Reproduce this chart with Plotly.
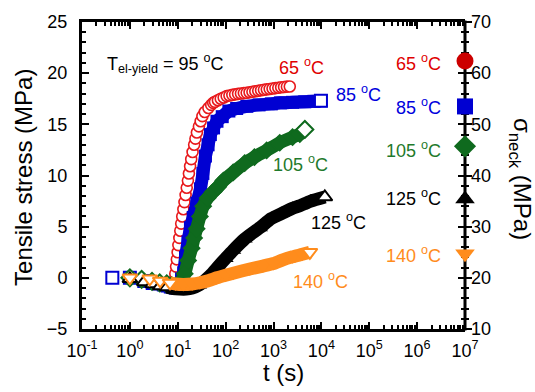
import plotly.graph_objects as go

# ---------------- data ----------------
RED_T = [7.5, 8.4, 8.87, 9.21, 9.57, 9.94, 10.3, 10.8, 11.3, 11.8, 12.4, 13.1, 13.8, 14.6, 15.4, 16.3,
         17.1, 18.1, 19.1, 20.4, 22.0, 23.4, 25.1, 27.7, 30.1, 32.7, 36.7, 43.7, 49.9, 55, 60, 69, 79, 91,
         105, 120, 138, 158, 182, 209, 240, 275, 316, 363, 417, 479, 550, 631, 724, 832, 955, 1096, 1259,
         1445, 1660, 1905, 2188]
RED_S = [-0.4, -0.3, 0.4, 1.1, 1.8, 2.5, 3.2, 3.9, 4.6, 5.3, 6.0, 6.7, 7.4, 8.1, 8.8, 9.5,
         10.2, 10.9, 11.6, 12.3, 13.0, 13.6, 14.2, 14.8, 15.3, 15.8, 16.2, 16.6, 16.9, 17.1, 17.2, 17.35, 17.5, 17.62,
         17.76, 17.82, 17.88, 17.93, 17.98, 18.02, 18.05, 18.08, 18.13, 18.18, 18.23, 18.28, 18.33, 18.38, 18.42, 18.46, 18.5, 18.54, 18.58,
         18.62, 18.65, 18.68, 18.7]

BLUE_T = [0.43, 1.0, 2.0, 3.0, 4.0, 5.0, 6.0, 7.0, 8.0, 9.0, 10.0, 11.0, 12.0, 13.3, 14.5, 16.3, 18.4, 21, 25, 29.8,
          33.5, 37.9, 43, 48, 56, 66, 85, 117, 170, 278, 500, 900, 1393, 2500, 4500, 7000, 9800]
BLUE_S = [0.0, 0.0, -0.3, -0.5, -0.6, -0.7, -0.8, -0.9, -0.95, -1.0, -1.0, -0.6, -0.1, 0.5, 2.0, 3.5, 4.9, 5.9, 7.3, 8.7,
          10.2, 11.9, 13.0, 14.0, 14.65, 15.3, 15.75, 16.3, 16.55, 16.76, 16.9, 17.0, 17.1, 17.15, 17.2, 17.25, 17.3]

GREEN_T = [1.0, 1.76, 2.9, 4.2, 5.9, 7.5, 9.5, 11.5, 14, 16.5, 19.5, 22, 24.8, 29, 34, 42, 55, 70, 90, 144,
           250, 400, 718, 1350, 2500, 3550, 4520]
GREEN_S = [0.0, -0.15, -0.35, -0.5, -0.6, -0.7, -0.7, -0.4, 0.4, 1.7, 2.9, 3.9, 4.8, 6.0, 7.0, 7.8, 8.4, 8.9, 9.5, 10.3,
           11.2, 11.8, 12.45, 13.2, 13.75, 14.05, 14.5]

BLACK_T = [1.0, 2.0, 3.0, 4.3, 6.0, 8.0, 11, 15, 20, 28, 38, 52, 70, 100, 144, 250, 520, 900, 1500, 2500,
           3550, 6000, 11800]
BLACK_S = [-0.1, -0.4, -0.6, -0.8, -0.9, -1.05, -1.1, -1.1, -1.0, -0.7, -0.2, 0.4, 1.1, 1.9, 2.7, 3.8, 4.9, 5.8, 6.3, 6.8,
           7.05, 7.5, 7.9]

ORANGE_T = [1.0, 2.6, 4.3, 6.9, 9.0, 13, 20, 29, 45, 65, 100, 144, 320, 600, 1000, 1570, 2500, 4000, 5750]
ORANGE_S = [0.0, -0.1, -0.3, -0.5, -0.6, -0.65, -0.6, -0.48, -0.25, 0.0, 0.25, 0.45, 0.86, 1.15, 1.4, 1.76, 2.05, 2.3, 2.5]

TEMPS = ["65", "85", "105", "125", "140"]
SIGMA_NECK = [62.4, 53.5, 45.7, 35.4, 24.7]
NECK_T = 1e7
X_TICKS = [1e-1, 1e0, 1e1, 1e2, 1e3, 1e4, 1e5, 1e6, 1e7]
X_TICKTEXT = ["10<sup>-1</sup>", "10<sup>0</sup>", "10<sup>1</sup>", "10<sup>2</sup>", "10<sup>3</sup>",
              "10<sup>4</sup>", "10<sup>5</sup>", "10<sup>6</sup>", "10<sup>7</sup>"]

# ---------------- styling ----------------
FONT = "Liberation Sans, Arial, sans-serif"
C_RED = "#e8191c"
C_BLUE = "#0000d2"
C_GREEN = "#0f6a1e"
C_BLACK = "#000000"
C_ORANGE = "#ff8c1c"
T_RED = "#e00000"
T_BLUE = "#0000dd"
T_GREEN = "#1f7a2c"
T_ORANGE = "#ff8c1c"

W, H = 535, 392
L, R, T, B = 82, 465, 14, 329


def px(xp):
    return (xp - L) / (R - L)


def py(yp):
    return (B - yp) / (B - T)


fig = go.Figure()

# red: open circles, drawn individually
fig.add_trace(go.Scatter(x=RED_T, y=RED_S, mode="markers",
                         marker=dict(symbol="circle", size=11, color="white",
                                     line=dict(color=C_RED, width=1.6)),
                         showlegend=False, hoverinfo="skip"))


def add_series(tt, ss, n_early, color, symbol, size):
    # dense band
    fig.add_trace(go.Scatter(x=tt[n_early - 1:], y=ss[n_early - 1:], mode="lines+markers",
                             line=dict(color=color, width=13, shape="spline", smoothing=0.6),
                             marker=dict(symbol=symbol, size=size + 1, color=color, line=dict(width=0)),
                             showlegend=False, hoverinfo="skip"))
    # sparse early points + final point (open markers)
    ex = tt[:n_early] + [tt[-1]]
    ey = ss[:n_early] + [ss[-1]]
    fig.add_trace(go.Scatter(x=ex, y=ey, mode="markers",
                             marker=dict(symbol=symbol, size=size, color="white",
                                         line=dict(color=color, width=2)),
                             showlegend=False, hoverinfo="skip", cliponaxis=False))


add_series(BLUE_T, BLUE_S, 4, C_BLUE, "square", 12)
add_series(GREEN_T, GREEN_S, 5, C_GREEN, "diamond", 13)
add_series(BLACK_T, BLACK_S, 5, C_BLACK, "triangle-up", 13)
add_series(ORANGE_T, ORANGE_S, 4, C_ORANGE, "triangle-down", 13)

# sigma_neck markers on the right axis
fig.add_trace(go.Scatter(x=[NECK_T] * len(SIGMA_NECK), y=SIGMA_NECK, yaxis="y3", mode="markers",
                         marker=dict(symbol=["circle", "square", "diamond", "triangle-up", "triangle-down"],
                                     size=[17, 16, 17, 17, 17],
                                     color=["#cc0000", C_BLUE, C_GREEN, C_BLACK, C_ORANGE],
                                     opacity=1, line=dict(width=0)),
                         opacity=1, cliponaxis=False, showlegend=False, hoverinfo="skip"))
# helper invisible trace so the labelled right axis is drawn
fig.add_trace(go.Scatter(x=[NECK_T], y=[40], yaxis="y2", mode="markers",
                         marker=dict(opacity=0), showlegend=False, hoverinfo="skip"))

minor_x = [m * 10 ** e for e in range(-1, 7) for m in range(2, 10)]

axis_common = dict(showgrid=False, zeroline=False,
                   tickcolor="black", tickwidth=2, ticklen=7, ticks="inside",
                   tickfont=dict(family=FONT, size=18, color="black"))

fig.update_layout(
    width=W, height=H,
    margin=dict(l=L, r=W - R, t=T, b=H - B, pad=0),
    paper_bgcolor="white", plot_bgcolor="white",
    font=dict(family=FONT, color="black"),
    xaxis=dict(type="log", range=[-1, 7], tickmode="array", tickvals=X_TICKS, ticktext=X_TICKTEXT,
               mirror="ticks", ticklabelstandoff=3, showline=True, linewidth=3, linecolor="black",
               minor=dict(ticks="inside", ticklen=4, tickwidth=1.5, tickcolor="black", tickvals=minor_x),
               **axis_common),
    yaxis=dict(range=[-5, 25], tick0=-5, dtick=5, mirror=False, ticklabelstandoff=8,
               showline=True, linewidth=3, linecolor="black",
               minor=dict(ticks="inside", ticklen=4, tickwidth=1.5, tickcolor="black", dtick=1),
               **axis_common),
    yaxis2=dict(range=[10, 70], tick0=10, dtick=10, overlaying="y", side="right", ticklabelstandoff=5,
                showline=False, layer="below traces",
                minor=dict(ticks="inside", ticklen=4, tickwidth=1.5, tickcolor="black", dtick=2),
                **axis_common),
    yaxis3=dict(range=[10, 70], tick0=10, dtick=10, overlaying="y", side="right", showline=False,
                showgrid=False, zeroline=False, ticks="outside", ticklen=6, tickwidth=2, tickcolor="black",
                showticklabels=False, layer="below traces",
                minor=dict(ticks="outside", ticklen=3, tickwidth=1.5, tickcolor="black", dtick=2)),
    shapes=[dict(type="line", xref="paper", yref="paper", x0=1, x1=1, y0=-0.005, y1=1.005,
                 line=dict(color="black", width=3), layer="below")],
)

ann = []


def label(text, x, y, color, size=18, xanchor="center", angle=0):
    ann.append(dict(text=text, x=px(x), y=py(y), xref="paper", yref="paper", showarrow=False,
                    xanchor=xanchor, yanchor="middle", textangle=angle,
                    font=dict(family=FONT, size=size, color=color)))


label("T<sub>el-yield</sub> = 95 <sup>o</sup>C", 105, 57, "black", size=18, xanchor="left")
label(TEMPS[0] + " <sup>o</sup>C", 301, 60, T_RED)
label(TEMPS[1] + " <sup>o</sup>C", 358, 87, T_BLUE)
label(TEMPS[2] + " <sup>o</sup>C", 300, 159, T_GREEN)
label(TEMPS[3] + " <sup>o</sup>C", 338, 219, "black")
label(TEMPS[4] + " <sup>o</sup>C", 320, 279, T_ORANGE)
for txt, yy, col in zip(TEMPS, [56, 101, 145, 194, 253], [T_RED, T_BLUE, T_GREEN, "black", T_ORANGE]):
    label(txt + " <sup>o</sup>C", 443, yy, col, xanchor="right")

label("Tensile stress (MPa)", 24, 174, "black", size=24, angle=-90)
label("t (s)", 283, 374, "black", size=24)
label("σ<sub>neck</sub> (MPa)", 520, 175, "black", size=24, angle=90)

fig.update_layout(annotations=ann)

fig.write_html("out.html")
